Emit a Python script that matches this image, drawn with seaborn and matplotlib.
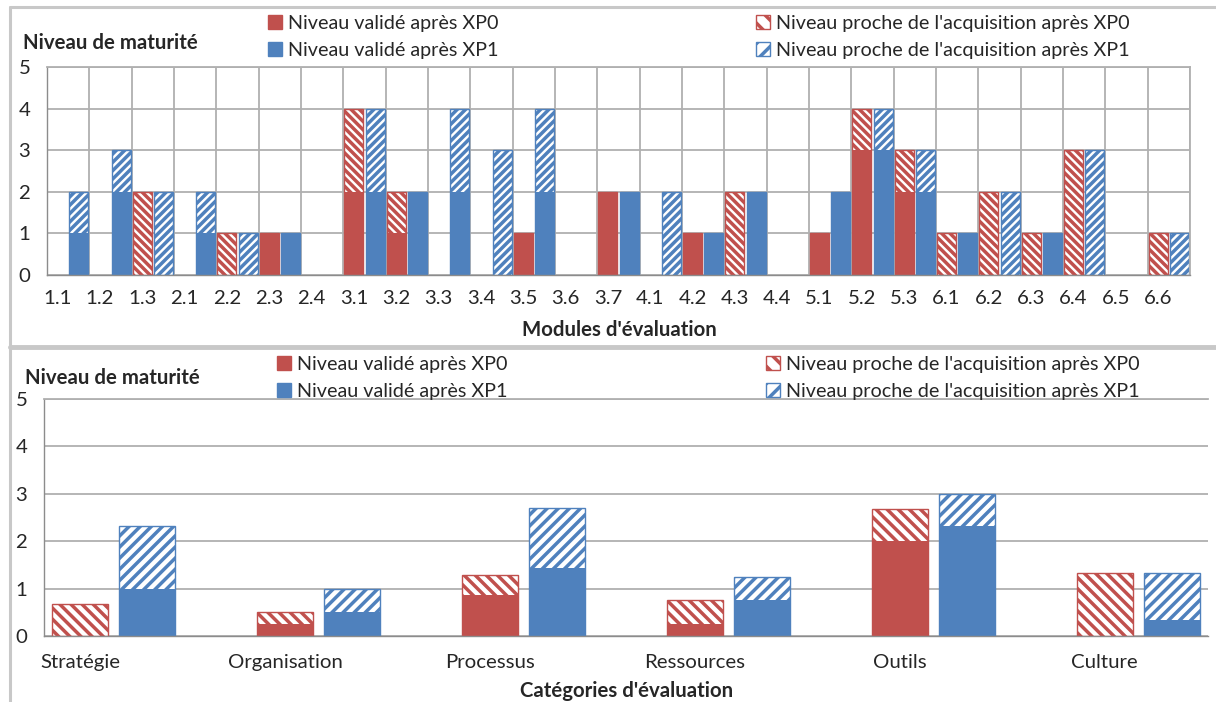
import numpy as np
import pandas as pd
import seaborn as sns
import matplotlib.pyplot as plt
from matplotlib.patches import Patch
from matplotlib.lines import Line2D

# données
modules = ['1.1', '1.2', '1.3', '2.1', '2.2', '2.3', '2.4', '3.1', '3.2', '3.3', '3.4', '3.5', '3.6', '3.7',
           '4.1', '4.2', '4.3', '4.4', '5.1', '5.2', '5.3', '6.1', '6.2', '6.3', '6.4', '6.5', '6.6']
valide_xp0 = [0, 0, 0, 0, 0, 1, 0, 2, 1, 0, 0, 1, 0, 2, 0, 1, 0, 0, 1, 3, 2, 0, 0, 0, 0, 0, 0]
proche_xp0 = [0, 0, 2, 0, 1, 0, 0, 2, 1, 0, 0, 0, 0, 0, 0, 0, 2, 0, 0, 1, 1, 1, 2, 1, 3, 0, 1]
valide_xp1 = [1, 2, 0, 1, 0, 1, 0, 2, 2, 2, 0, 2, 0, 2, 0, 1, 2, 0, 2, 3, 2, 1, 0, 1, 0, 0, 0]
proche_xp1 = [1, 1, 2, 1, 1, 0, 0, 2, 0, 2, 3, 2, 0, 0, 2, 0, 0, 0, 0, 1, 1, 0, 2, 0, 3, 0, 1]

categories = ['Stratégie', 'Organisation', 'Processus', 'Ressources', 'Outils', 'Culture']
cat_valide_xp0 = [0, 0.25, 0.86, 0.25, 2.0, 0]
cat_proche_xp0 = [0.67, 0.25, 0.43, 0.5, 0.67, 1.33]
cat_valide_xp1 = [1.0, 0.5, 1.43, 0.75, 2.33, 0.33]
cat_proche_xp1 = [1.33, 0.5, 1.28, 0.5, 0.67, 1.0]

labels = ["Niveau validé après XP0", "Niveau validé après XP1",
          "Niveau proche de l'acquisition après XP0", "Niveau proche de l'acquisition après XP1"]

RED = '#C0504D'
BLUE = '#4F81BD'
GRID = '#B0B0B0'
AXIS = '#8C8C8C'
W, H = 1216, 702

sns.set_style("white")
plt.rcParams['font.family'] = ['Lato', 'DejaVu Sans']
plt.rcParams['hatch.linewidth'] = 2.5
FS_TICK = 14.7
FS_LEG = 14.2
FS_TITLE = 14.7


def draw(ax, cats, v0, p0, v1, p1, width, gap, xlim, dens):
    n = len(cats)
    df = pd.DataFrame({
        'cat': cats * 2,
        'phase': ['XP0'] * n + ['XP1'] * n,
        'valide': v0 + v1,
        'total': list(np.add(v0, p0)) + list(np.add(v1, p1)),
    })
    # barres hachurées (total), puis barres pleines (validé) par-dessus
    sns.barplot(data=df, x='cat', y='total', hue='phase', order=cats, hue_order=['XP0', 'XP1'],
                palette=[RED, BLUE], saturation=1, width=width, gap=gap, errorbar=None,
                legend=False, ax=ax)
    sns.barplot(data=df, x='cat', y='valide', hue='phase', order=cats, hue_order=['XP0', 'XP1'],
                palette=[RED, BLUE], saturation=1, width=width, gap=gap, errorbar=None,
                legend=False, ax=ax, linewidth=0)
    for cont, col, hatch in zip(ax.containers[:2], [RED, BLUE], ['\\' * dens, '/' * dens]):
        for p in cont:
            p.set_facecolor('white')
            p.set_edgecolor(col)
            p.set_linewidth(1.0)
            p.set_hatch(hatch)
    for cont in ax.containers:
        for p in cont:
            if p.get_height() == 0:
                p.set_visible(False)
    ax.set_xlim(*xlim)
    ax.set_ylim(0, 5)
    ax.set_yticks(range(6))
    ax.set_xlabel('')
    ax.set_ylabel('')
    ax.set_axisbelow(True)
    ax.grid(axis='y', color=GRID, lw=1.3)
    for s in ['left', 'bottom']:
        ax.spines[s].set_color(AXIS)
        ax.spines[s].set_linewidth(1.0)
    ax.spines['top'].set_color(GRID)
    ax.spines['top'].set_linewidth(1.3)
    ax.tick_params(axis='y', length=5, color=AXIS, labelsize=FS_TICK, pad=7)
    ax.tick_params(axis='x', which='major', length=0, labelsize=FS_TICK)


fig = plt.figure(figsize=(W / 100, H / 100), dpi=100)
ax1 = fig.add_axes([47 / W, 1 - 275 / H, 1143 / W, 208 / H])
ax2 = fig.add_axes([44 / W, 1 - 636 / H, 1164 / W, 237 / H])

# graphique du haut : modules
n1 = len(modules)
draw(ax1, modules, valide_xp0, proche_xp0, valide_xp1, proche_xp1, 1.0, 0.1, (-0.5, n1 - 0.5), 4)
ax1.set_xticks(np.arange(n1) - 0.25)
ax1.set_xticklabels(modules)
ax1.set_xticks(np.arange(n1 + 1) - 0.5, minor=True)
ax1.grid(axis='x', which='minor', color=GRID, lw=1.3)
ax1.tick_params(axis='x', which='minor', length=5, color=AXIS)
ax1.tick_params(axis='x', which='major', pad=11)
ax1.spines['right'].set_color(GRID)
ax1.spines['right'].set_linewidth(1.3)

# graphique du bas : catégories
n2 = len(categories)
draw(ax2, categories, cat_valide_xp0, cat_proche_xp0, cat_valide_xp1, cat_proche_xp1,
     0.656, 0.168, (-0.34, n2 - 1 + 0.34), 3)
ax2.set_xticks(np.arange(n2) - 0.164)
ax2.set_xticklabels(categories)
ax2.tick_params(axis='x', which='major', pad=13)
ax2.spines['right'].set_visible(False)

# titres
fig.text(23 / W, 1 - 43 / H, "Niveau de maturité", fontsize=FS_TITLE, fontweight='bold', va='center')
fig.text(619 / W, 1 - 330 / H, "Modules d'évaluation", fontsize=FS_TITLE, fontweight='bold',
         ha='center', va='center')
fig.text(25 / W, 1 - 378 / H, "Niveau de maturité", fontsize=FS_TITLE, fontweight='bold', va='center')
fig.text(627 / W, 1 - 691 / H, "Catégories d'évaluation", fontsize=FS_TITLE, fontweight='bold',
         ha='center', va='center')

# légendes
h_v0 = Patch(facecolor=RED, edgecolor=RED)
h_v1 = Patch(facecolor=BLUE, edgecolor=BLUE)
h_p0 = Patch(facecolor='white', edgecolor=RED, hatch='\\\\')
h_p1 = Patch(facecolor='white', edgecolor=BLUE, hatch='//')
leg_kw = dict(loc='upper left', frameon=False, fontsize=FS_LEG, handlelength=0.7, handleheight=0.7,
              handletextpad=0.3, labelspacing=0.5, borderpad=0, borderaxespad=0)
for y0, xa, xb in [(15, 268, 756), (356, 277, 766)]:
    fig.legend([h_v0, h_v1], labels[:2], bbox_to_anchor=(xa / W, 1 - y0 / H), **leg_kw)
    fig.legend([h_p0, h_p1], labels[2:], bbox_to_anchor=(xb / W, 1 - y0 / H), **leg_kw)

# cadres
frame = dict(color='#C8C8C8', lw=2.2, transform=fig.transFigure)
fig.add_artist(Line2D([10 / W, 1], [1 - 7 / H, 1 - 7 / H], **frame))
fig.add_artist(Line2D([10 / W, 1], [1 - 347 / H, 1 - 347 / H], lw=3.5, color='#C8C8C8',
                      transform=fig.transFigure))
fig.add_artist(Line2D([10 / W, 10 / W], [0, 1 - 7 / H], **frame))

fig.savefig("out.png", dpi=100)
